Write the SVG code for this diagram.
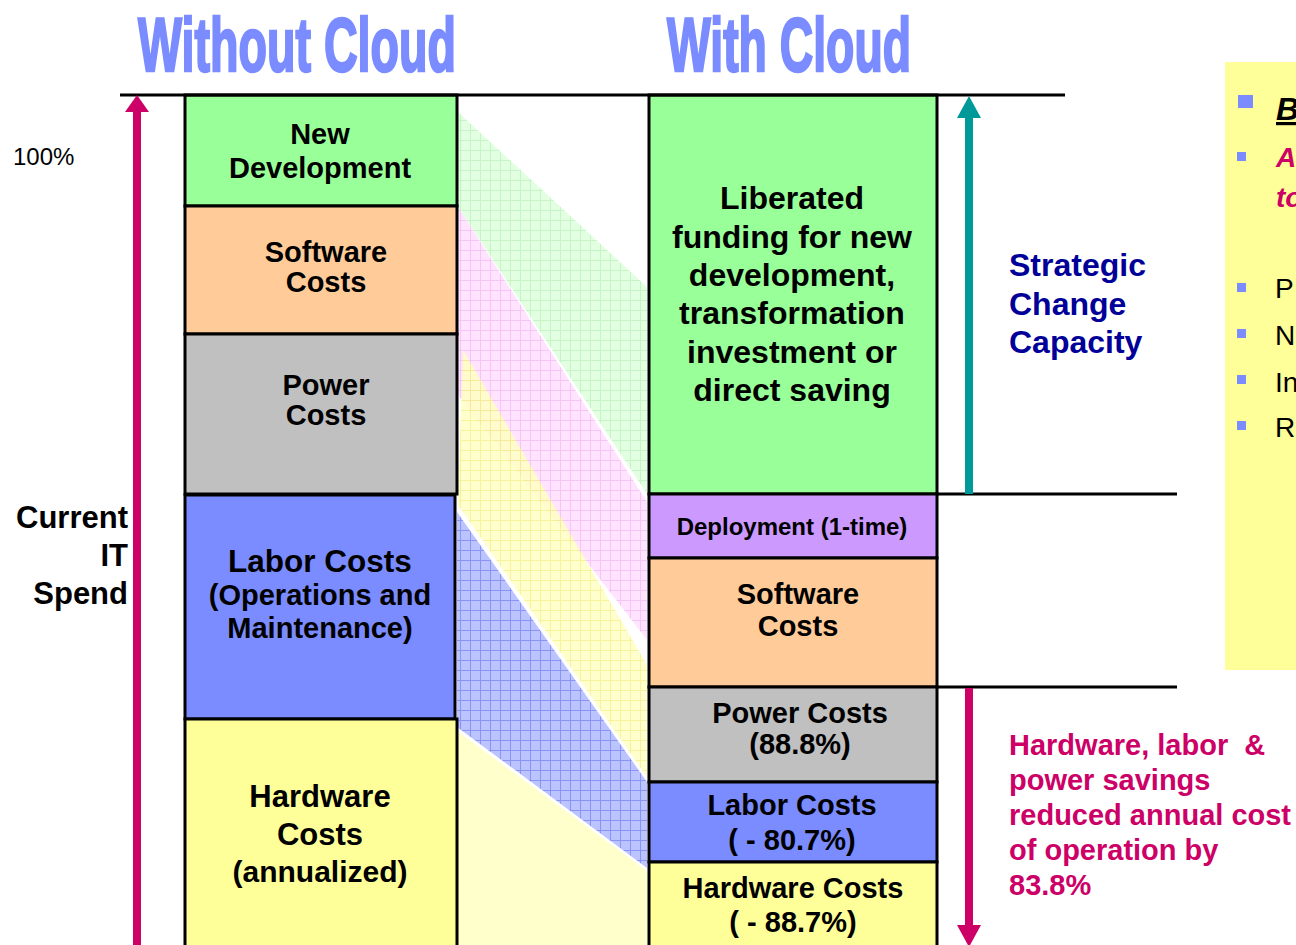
<svg xmlns="http://www.w3.org/2000/svg" width="1296" height="945" viewBox="0 0 1296 945">
<defs>
<style>
.box{stroke:#000;stroke-width:3}
.t{font-family:"Liberation Sans",Arial,sans-serif;font-weight:bold;fill:#000;text-anchor:middle}
.title{font-family:"Liberation Sans Narrow","Liberation Sans",Arial,sans-serif;font-weight:bold;fill:#7A8CFF;stroke:#7A8CFF;stroke-width:2.5;font-size:76px}
.lbl{font-family:"Liberation Sans",Arial,sans-serif;font-weight:bold}
.bul{fill:#7A8CFF}
</style>
<pattern id="pg" width="10" height="10" patternUnits="userSpaceOnUse"><rect width="10" height="10" fill="#E2FFE2"/><path d="M0 0.5H10M0.5 0V10" stroke="#C6F4C6" stroke-width="1"/></pattern>
<pattern id="pp" width="10" height="10" patternUnits="userSpaceOnUse"><rect width="10" height="10" fill="#FFE2FF"/><path d="M0 0.5H10M0.5 0V10" stroke="#F4C2F4" stroke-width="1"/></pattern>
<pattern id="py" width="10" height="10" patternUnits="userSpaceOnUse"><rect width="10" height="10" fill="#FFFFC4"/><path d="M0 0.5H10M0.5 0V10" stroke="#F6F08A" stroke-width="1"/></pattern>
<pattern id="pb" width="10" height="10" patternUnits="userSpaceOnUse"><rect width="10" height="10" fill="#BCC4FF"/><path d="M0 0.5H10M0.5 0V10" stroke="#8A94F4" stroke-width="1"/></pattern>
</defs>
<rect width="1296" height="945" fill="#fff"/>

<text class="title" x="138" y="71" textLength="318" lengthAdjust="spacingAndGlyphs">Without Cloud</text>
<text class="title" x="667" y="71" textLength="244" lengthAdjust="spacingAndGlyphs">With Cloud</text>

<g id="connectors">
<polygon points="458,112 647,287 647,494 458,207" fill="url(#pg)"/>
<polygon points="458,207 647,502 647,640 458,395" fill="url(#pp)" opacity="0.95"/>
<polygon points="463,350 647,665 647,777 458,505" fill="url(#py)" opacity="0.85"/>
<polygon points="457,512 647,782 647,868 457,727" fill="url(#pb)"/>
<polygon points="457,731 647,871 647,945 457,945" fill="#FFFFCC"/>
</g>

<g id="left-column">
<g id="new-development"><rect class="box" x="185" y="95" width="272" height="111" fill="#99FF99"/>
<text class="t" x="320" y="144" font-size="29">New</text><text class="t" x="320" y="178" font-size="29">Development</text></g>
<g id="software-costs-left"><rect class="box" x="185" y="206" width="272" height="128" fill="#FFCC99"/>
<text class="t" x="326" y="262" font-size="29">Software</text><text class="t" x="326" y="292" font-size="29">Costs</text></g>
<g id="power-costs-left"><rect class="box" x="185" y="334" width="272" height="160" fill="#C0C0C0"/>
<text class="t" x="326" y="395" font-size="29">Power</text><text class="t" x="326" y="425" font-size="29">Costs</text></g>
<g id="labor-costs-left"><rect class="box" x="185" y="495" width="270" height="224" fill="#7A8CFF"/>
<text class="t" x="320" y="572" font-size="31.5">Labor Costs</text><text class="t" x="320" y="605" font-size="29">(Operations and</text><text class="t" x="320" y="638" font-size="29">Maintenance)</text></g>
<g id="hardware-costs-left"><rect class="box" x="185" y="719" width="272" height="240" fill="#FFFF99"/>
<text class="t" x="320" y="807" font-size="31">Hardware</text><text class="t" x="320" y="845" font-size="31">Costs</text><text class="t" x="320" y="882" font-size="30">(annualized)</text></g>
</g>

<g id="right-column">
<g id="liberated-funding"><rect class="box" x="649" y="95" width="288" height="399" fill="#99FF99"/>
<text class="t" x="792" y="209" font-size="32">Liberated</text>
<text class="t" x="792" y="248" font-size="32">funding for new</text>
<text class="t" x="792" y="286" font-size="32">development,</text>
<text class="t" x="792" y="324" font-size="32">transformation</text>
<text class="t" x="792" y="363" font-size="32">investment or</text>
<text class="t" x="792" y="401" font-size="32">direct saving</text></g>
<g id="deployment"><rect class="box" x="649" y="494" width="288" height="64" fill="#CC99FF"/>
<text class="t" x="792" y="535" font-size="24">Deployment (1-time)</text></g>
<g id="software-costs-right"><rect class="box" x="649" y="558" width="288" height="129" fill="#FFCC99"/>
<text class="t" x="798" y="604" font-size="29">Software</text><text class="t" x="798" y="636" font-size="29">Costs</text></g>
<g id="power-costs-right"><rect class="box" x="649" y="687" width="288" height="95" fill="#C0C0C0"/>
<text class="t" x="800" y="723" font-size="29">Power Costs</text><text class="t" x="800" y="754" font-size="29">(88.8%)</text></g>
<g id="labor-costs-right"><rect class="box" x="649" y="782" width="288" height="80" fill="#7A8CFF"/>
<text class="t" x="792" y="815" font-size="29">Labor Costs</text><text class="t" x="792" y="850" font-size="29">( - 80.7%)</text></g>
<g id="hardware-costs-right"><rect class="box" x="649" y="862" width="288" height="100" fill="#FFFF99"/>
<text class="t" x="793" y="898" font-size="29">Hardware Costs</text><text class="t" x="793" y="932" font-size="29">( - 88.7%)</text></g>
</g>

<g id="rules" stroke="#000" stroke-width="3">
<line x1="120" y1="95" x2="1065" y2="95"/>
<line x1="937" y1="494" x2="1177" y2="494"/>
<line x1="937" y1="687" x2="1177" y2="687"/>
</g>

<g id="arrows">
<rect x="133" y="110" width="8" height="840" fill="#CC0066"/>
<polygon points="125,112 149,112 137,95" fill="#CC0066"/>
<rect x="965" y="116" width="8" height="378" fill="#009999"/>
<polygon points="957,118 981,118 969,96" fill="#009999"/>
<rect x="965" y="688" width="8" height="240" fill="#CC0066"/>
<polygon points="957,925 981,925 969,947" fill="#CC0066"/>
</g>

<g id="labels">
<text x="13" y="165" font-family="Liberation Sans,Arial,sans-serif" font-size="24" fill="#000">100%</text>
<g class="lbl" font-size="31" text-anchor="end" fill="#000">
<text x="128" y="528">Current</text><text x="128" y="566">IT</text><text x="128" y="604">Spend</text></g>
<g class="lbl" font-size="32" fill="#000099">
<text x="1009" y="276">Strategic</text><text x="1009" y="315">Change</text><text x="1009" y="353">Capacity</text></g>
<g class="lbl" font-size="29" fill="#CC0066">
<text x="1009" y="755" xml:space="preserve">Hardware, labor  &amp;</text><text x="1009" y="790">power savings</text><text x="1009" y="825">reduced annual cost</text><text x="1009" y="860">of operation by</text><text x="1009" y="895">83.8%</text></g>
</g>

<g id="side-panel">
<rect x="1225" y="62" width="80" height="608" fill="#FFFF99"/>
<rect class="bul" x="1238" y="95" width="15" height="13"/>
<rect class="bul" x="1237" y="152" width="9" height="9"/>
<rect class="bul" x="1237" y="283" width="9" height="9"/>
<rect class="bul" x="1237" y="329" width="9" height="9"/>
<rect class="bul" x="1237" y="375" width="9" height="9"/>
<rect class="bul" x="1237" y="421" width="9" height="9"/>
<text x="1276" y="120" font-family="Liberation Sans,Arial,sans-serif" font-size="32" font-weight="bold" font-style="italic" text-decoration="underline" fill="#000">B</text>
<g font-family="Liberation Sans,Arial,sans-serif" font-size="28" font-weight="bold" font-style="italic" fill="#CC0066">
<text x="1276" y="167">A</text><text x="1276" y="207">to</text></g>
<g font-family="Liberation Sans,Arial,sans-serif" font-size="28" fill="#000">
<text x="1275" y="298">P</text><text x="1275" y="345">N</text><text x="1275" y="392">In</text><text x="1275" y="437">R</text></g>
</g>
</svg>
